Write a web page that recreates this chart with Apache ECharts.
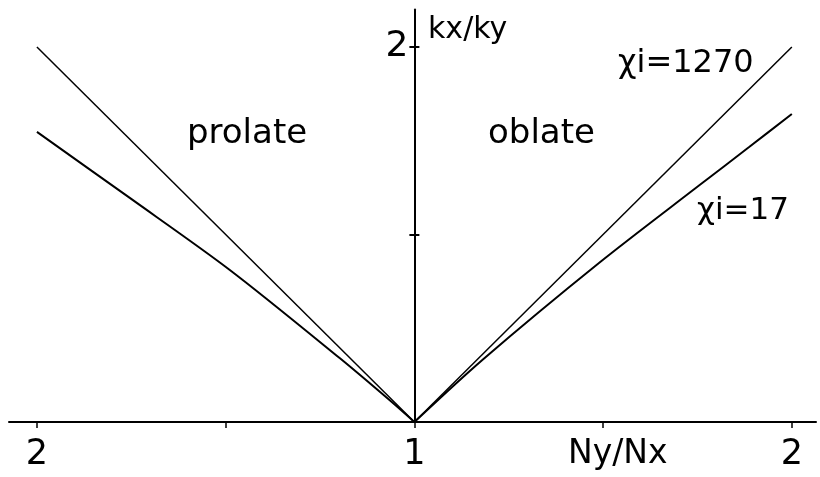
<!DOCTYPE html>
<html>
<head>
<meta charset="utf-8">
<title>kx/ky vs Ny/Nx</title>
<script src="https://cdn.jsdelivr.net/npm/echarts@6/dist/echarts.min.js"></script>
<style>
html, body { margin: 0; padding: 0; background: #fff; }
#chart { width: 820px; height: 477px; }
</style>
</head>
<body>
<div id="chart"></div>
<script>
// axis ratio N: Nx/Ny on the prolate (left) side, Ny/Nx on the oblate (right) side
const prolateN = [1, 1.066, 1.198, 1.489, 1.754, 2.0]
const prolateXi17 = [0, 0.117, 0.341, 0.811, 1.195, 1.547]
const prolateXi1270N = [1, 2]
const prolateXi1270 = [0, 2.0]

const oblateN = [1, 1.18, 1.489, 1.754, 1.886, 2.0]
const oblateXi17 = [0, 0.331, 0.848, 1.261, 1.465, 1.643]
const oblateXi1270N = [1, 2]
const oblateXi1270 = [0, 2.0]

// axis coordinate: prolate side runs left from 0, oblate side runs right
const xTicks = [-1, -0.5, 0, 0.5, 1]
const xTickLabels = [-1, 0, 1]
const yTicks = [1, 2]
const yTickLabels = [2]

const FONT = 'DejaVu Sans'
const X_MIN = -1.074
const X_MAX = 1.064
const GRID = { left: 9, right: 4, top: 9.5, bottom: 55 }

const toProlate = (ns, vals) => ns.map((n, i) => [1 - n, vals[i]])
const toOblate = (ns, vals) => ns.map((n, i) => [n - 1, vals[i]])

const lineSeries = (name, data, width, smooth) => ({
  name: name,
  type: 'line',
  data: data,
  symbol: 'none',
  smooth: smooth,
  silent: true,
  lineStyle: { color: '#000', width: width }
})

const text = (str, x, y, size) => ({
  type: 'text',
  x: x,
  y: y,
  style: {
    text: str,
    fill: '#000',
    font: size + 'px "' + FONT + '"',
    textAlign: 'left',
    textVerticalAlign: 'middle'
  }
})

const chartEl = document.getElementById('chart')
const chart = echarts.init(chartEl)

// shift the vertical axis onto N = 1 (the middle of the x range)
const gridWidth = chartEl.clientWidth - GRID.left - GRID.right
const yOffset = -gridWidth * (0 - X_MIN) / (X_MAX - X_MIN)

const yAxisBase = {
  type: 'value',
  min: 0,
  max: 2.2,
  position: 'left',
  offset: yOffset,
  splitLine: { show: false }
}

const option = {
  backgroundColor: '#fff',
  animation: false,
  grid: Object.assign({ containLabel: false }, GRID),
  xAxis: {
    type: 'value',
    min: X_MIN,
    max: X_MAX,
    axisLine: { onZero: false, lineStyle: { color: '#000', width: 2 } },
    axisTick: { show: true, customValues: xTicks, length: 6, lineStyle: { color: '#000', width: 1.5 } },
    axisLabel: {
      customValues: xTickLabels,
      margin: 15,
      color: '#000',
      fontFamily: FONT,
      fontSize: 35,
      formatter: v => String(1 + Math.abs(v))
    },
    splitLine: { show: false }
  },
  yAxis: [
    Object.assign({}, yAxisBase, {
      axisLine: { show: true, onZero: false, lineStyle: { color: '#000', width: 2 } },
      axisTick: { show: true, customValues: yTicks, length: 5, lineStyle: { color: '#000', width: 2 } },
      axisLabel: {
        customValues: yTickLabels,
        margin: 6,
        color: '#000',
        fontFamily: FONT,
        fontSize: 36
      }
    }),
    Object.assign({}, yAxisBase, {
      axisLine: { show: false, onZero: false },
      axisTick: { show: true, inside: true, customValues: yTicks, length: 5, lineStyle: { color: '#000', width: 2 } },
      axisLabel: { show: false }
    })
  ],
  series: [
    lineSeries('prolate χi=1270', toProlate(prolateXi1270N, prolateXi1270), 1.5, false),
    lineSeries('prolate χi=17', toProlate(prolateN, prolateXi17), 2, 0.3),
    lineSeries('oblate χi=1270', toOblate(oblateXi1270N, oblateXi1270), 1.5, false),
    lineSeries('oblate χi=17', toOblate(oblateN, oblateXi17), 2, 0.3)
  ],
  graphic: [
    text('kx/ky', 428, 30, 30),
    text('prolate', 187, 134, 34),
    text('oblate', 488, 134, 34),
    text('χi=1270', 618, 64, 32),
    text('χi=17', 697, 211, 31),
    text('Ny/Nx', 568, 454, 33)
  ]
}

chart.setOption(option)
</script>
</body>
</html>
